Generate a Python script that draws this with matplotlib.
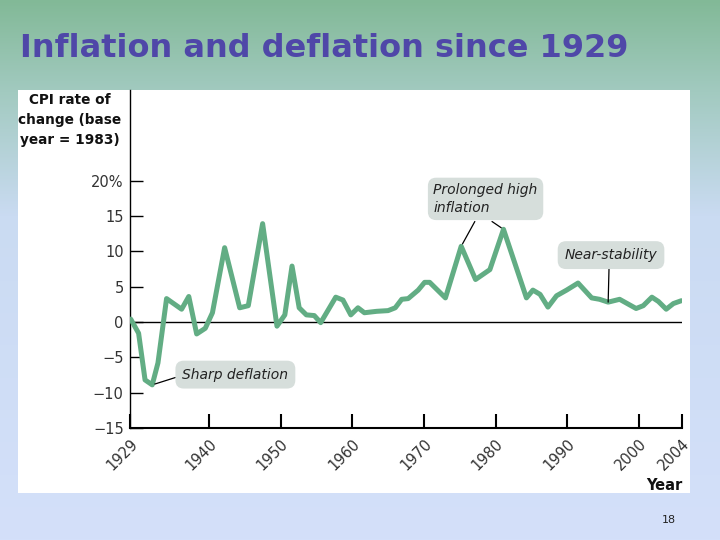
import numpy as np
import matplotlib
matplotlib.use("Agg")
import matplotlib.pyplot as plt
from matplotlib.patches import Rectangle

# ---- data ----
years = [1929.1, 1930.2, 1931.1, 1932.1, 1932.9, 1934.1, 1936.2, 1937.2, 1938.3, 1939.5,
         1940.5, 1942.2, 1944.3, 1945.5, 1947.5, 1949.5, 1950.6, 1951.6, 1952.6, 1953.6,
         1954.7, 1955.6, 1957.7, 1958.7, 1959.8, 1960.8, 1961.7, 1963.4, 1965.0, 1966.0,
         1966.9, 1967.8, 1969.2, 1970.1, 1970.8, 1973.0, 1975.2, 1977.2, 1979.2, 1981.1,
         1984.3, 1985.2, 1986.2, 1987.3, 1988.5, 1989.9, 1991.5, 1993.4, 1994.5, 1995.7,
         1997.3, 1999.6, 2000.6, 2001.8, 2002.7, 2003.8, 2004.8, 2005.9]
cpi_change = [0.4, -1.6, -8.2, -8.9, -5.8, 3.3, 1.8, 3.6, -1.7, -0.9,
              1.3, 10.5, 2.0, 2.3, 13.9, -0.6, 1.0, 7.9, 2.0, 1.0,
              0.9, -0.1, 3.5, 3.1, 1.0, 2.0, 1.3, 1.5, 1.6, 2.0,
              3.2, 3.3, 4.5, 5.6, 5.6, 3.4, 10.7, 6.0, 7.4, 13.1,
              3.4, 4.5, 3.9, 2.1, 3.7, 4.5, 5.5, 3.4, 3.2, 2.8,
              3.2, 1.9, 2.3, 3.5, 2.9, 1.8, 2.6, 3.0]
y_ticks = [-15, -10, -5, 0, 5, 10, 15, 20]
y_tick_labels = ["\u221215", "\u221210", "\u22125", "0", "5", "10", "15", "20%"]
x_ticks = [1929, 1940, 1950, 1960, 1970, 1980, 1990, 2000, 2006]
x_tick_labels = ["1929", "1940", "1950", "1960", "1970", "1980", "1990", "2000", "2004"]

W, H = 720, 540
fig = plt.figure(figsize=(7.2, 5.4), dpi=100)

# ---- slide background gradient ----
bg = fig.add_axes([0, 0, 1, 1], zorder=-10)
stops = np.array([0.0, 0.17, 0.40, 1.0])
cols = np.array([[130, 185, 151], [162, 202, 192], [202, 219, 242], [212, 224, 250]]) / 255.0
t = np.linspace(0, 1, 540)
grad = np.stack([np.interp(t, stops, cols[:, i]) for i in range(3)], axis=-1)[:, None, :]
bg.imshow(grad, aspect="auto", extent=[0, 1, 0, 1], origin="upper")
bg.set_axis_off()

# white panel
fig.add_artist(Rectangle((18 / W, 1 - 493 / H), (690 - 18) / W, (493 - 90) / H,
                         transform=fig.transFigure, facecolor="white",
                         edgecolor="none", zorder=-5))

# title
fig.text(20 / W, 1 - 57 / H, "Inflation and deflation since 1929",
         color="#4f47a8", fontsize=23, fontweight="bold", va="baseline", ha="left")
fig.text(676 / W, 1 - 523 / H, "18", fontsize=8, color="#222222", ha="right", va="baseline")

# ---- main axes ----
ax = fig.add_axes([130 / W, 1 - 428 / H, (682 - 130) / W, (428 - 90) / H])
ax.set_facecolor("none")
ax.set_xlim(1929, 2006)
ax.set_ylim(-15, 32.8)

line_color = "#62ad84"
ax.plot(years, cpi_change, color=line_color, lw=3.6, solid_joinstyle="round",
        solid_capstyle="round", zorder=3)
ax.axhline(0, color="black", lw=1.0, zorder=2)

for s in ["top", "right"]:
    ax.spines[s].set_visible(False)
ax.spines["left"].set_linewidth(1.0)
ax.spines["bottom"].set_linewidth(1.5)

ax.set_yticks(y_ticks)
ax.set_yticklabels(y_tick_labels)
ax.tick_params(axis="y", direction="in", length=9, width=1.0, labelsize=10.5,
               labelcolor="#333333", pad=4.5)
ax.set_xticks(x_ticks)
ax.set_xticklabels(x_tick_labels, rotation=45, ha="right", va="top",
                   rotation_mode="anchor")
ax.tick_params(axis="x", direction="in", length=10, width=1.5, labelsize=10.5,
               labelcolor="#333333", pad=6)

# axis titles
fig.text(70 / W, 1 - 93 / H, "CPI rate of\nchange (base\nyear = 1983)",
         fontsize=9.8, fontweight="bold", ha="center", va="top", linespacing=1.55,
         color="#111111")
fig.text(682 / W, 1 - 490 / H, "Year", fontsize=10.5, fontweight="bold",
         ha="right", va="baseline", color="#111111")

# ---- annotations ----
box = dict(boxstyle="round,pad=0.5,rounding_size=0.6", facecolor="#d6dedb",
           edgecolor="none")
tkw = dict(fontsize=10, style="italic", color="#222222", zorder=5)

ax.annotate("Sharp deflation", xy=(years[3], cpi_change[3]), xytext=(1943.7, -7.45),
            ha="center", va="center", bbox=box,
            arrowprops=dict(arrowstyle="-", color="black", lw=0.9, shrinkA=0, shrinkB=2,
                            relpos=(0, 0.45)), **tkw)

ax.text(1978.6, 17.4, "Prolonged high\ninflation", ha="center", va="center",
        multialignment="left", bbox=dict(boxstyle="round,pad=0.4,rounding_size=0.6",
                                         facecolor="#d6dedb", edgecolor="none"),
        linespacing=1.3, **tkw)
ax.annotate("", xy=(years[36], cpi_change[36]), xytext=(1977.1, 14.2),
            arrowprops=dict(arrowstyle="-", color="black", lw=0.9, shrinkA=0, shrinkB=2))
ax.annotate("", xy=(years[39], cpi_change[39]), xytext=(1979.5, 14.2),
            arrowprops=dict(arrowstyle="-", color="black", lw=0.9, shrinkA=0, shrinkB=2))

ax.annotate("Near-stability", xy=(years[49], cpi_change[49]), xytext=(1996.1, 9.45),
            ha="center", va="center", bbox=box,
            arrowprops=dict(arrowstyle="-", color="black", lw=0.9, shrinkA=0, shrinkB=0,
                            relpos=(0.48, 0)), **tkw)

fig.savefig("out.png", dpi=100)
